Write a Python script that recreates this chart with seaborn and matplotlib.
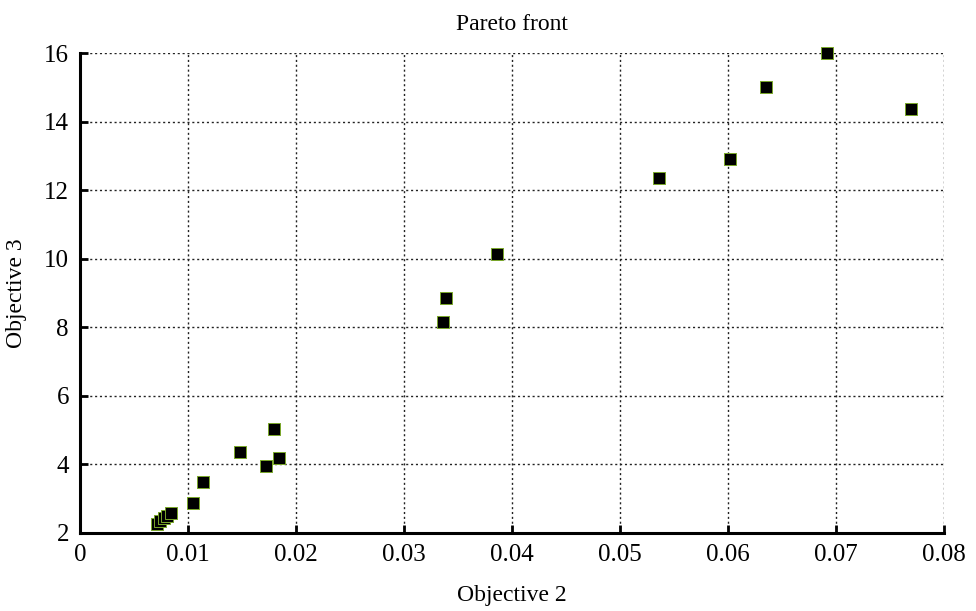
import matplotlib
matplotlib.use("Agg")
import matplotlib.pyplot as plt
import seaborn as sns
import pandas as pd

# Pareto front points
objective_2 = [0.0071, 0.0074, 0.0078, 0.0081, 0.0084, 0.01046, 0.01139, 0.01481,
               0.01722, 0.01796, 0.01843, 0.0336, 0.03389, 0.0386, 0.0536, 0.0602,
               0.0635, 0.0692, 0.0770]
objective_3 = [2.27, 2.33, 2.42, 2.5, 2.57, 2.87, 3.49, 4.36,
               3.95, 5.03, 4.19, 8.15, 8.85, 10.13, 12.35, 12.9,
               15.0, 16.0, 14.36]
x_ticks = [0, 0.01, 0.02, 0.03, 0.04, 0.05, 0.06, 0.07, 0.08]
x_tick_labels = ['0', '0.01', '0.02', '0.03', '0.04', '0.05', '0.06', '0.07', '0.08']
y_ticks = [2, 4, 6, 8, 10, 12, 14, 16]

df = pd.DataFrame({'Objective 2': objective_2, 'Objective 3': objective_3})

sns.set_style('white')
plt.rcParams['font.family'] = ['Liberation Serif', 'DejaVu Serif']
plt.rcParams['text.color'] = 'black'
plt.rcParams['axes.labelcolor'] = 'black'
plt.rcParams['xtick.color'] = 'black'
plt.rcParams['ytick.color'] = 'black'

fig = plt.figure(figsize=(9.76, 6.11), dpi=100)
ax = fig.add_axes([0.082, 0.128, 0.885, 0.785])

sns.scatterplot(data=df, x='Objective 2', y='Objective 3', ax=ax,
                marker='s', s=85, color='black', edgecolor='#7aa82a',
                linewidth=0.7, zorder=3, clip_on=False)

ax.set_xlim(0, 0.08)
ax.set_ylim(2, 16)
ax.set_xticks(x_ticks)
ax.set_xticklabels(x_tick_labels)
ax.set_yticks(y_ticks)
ax.grid(True, color='#222222', linestyle=(0, (1.5, 2)), linewidth=1.0)
ax.set_axisbelow(True)

for side in ['top', 'right']:
    ax.spines[side].set_visible(False)
for side in ['left', 'bottom']:
    ax.spines[side].set_linewidth(2.2)
    ax.spines[side].set_color('black')

ax.tick_params(direction='in', length=6, width=2, labelsize=18, pad=8,
               left=True, bottom=True)

ax.set_title('Pareto front', fontsize=17, pad=17)
ax.set_xlabel('Objective 2', fontsize=17, labelpad=14)
ax.set_ylabel('Objective 3', fontsize=17, labelpad=12)

fig.savefig('out.png', dpi=100)
